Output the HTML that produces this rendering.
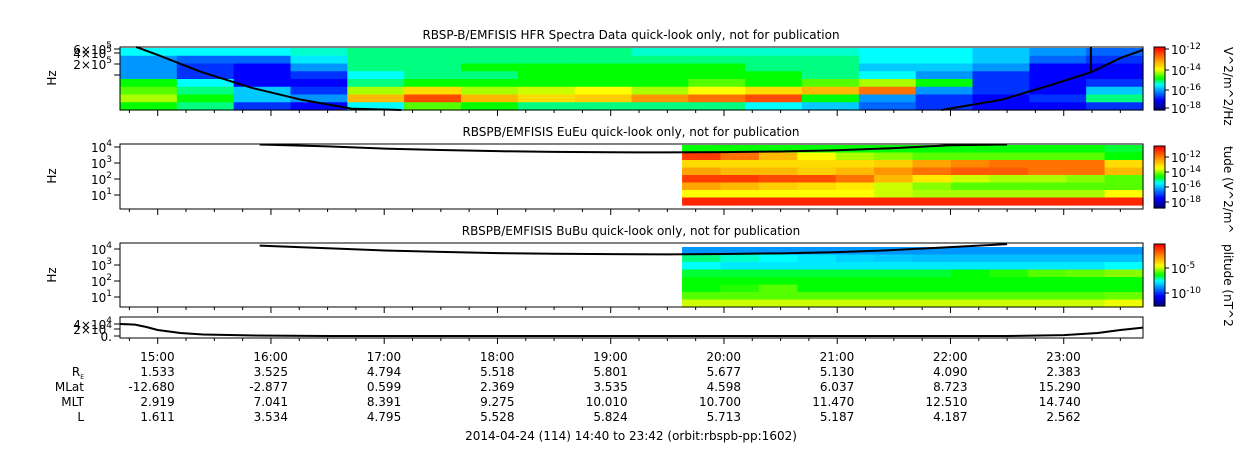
<!DOCTYPE html>
<html><head><meta charset="utf-8"><style>
body{margin:0;background:#fff;font-family:"DejaVu Sans","Liberation Sans",sans-serif;}
svg text{font-family:"DejaVu Sans","Liberation Sans",sans-serif;fill:#000;}
</style></head><body>
<svg id="c" width="1250" height="449" xmlns="http://www.w3.org/2000/svg"></svg>
<script>
// ---- data ----
const hourTicks=[15,16,17,18,19,20,21,22,23];
const hourLabels=["15:00","16:00","17:00","18:00","19:00","20:00","21:00","22:00","23:00"];
const reVals=["1.533","3.525","4.794","5.518","5.801","5.677","5.130","4.090","2.383"];
const mlatVals=["-12.680","-2.877","0.599","2.369","3.535","4.598","6.037","8.723","15.290"];
const mltVals=["2.919","7.041","8.391","9.275","10.010","10.700","11.470","12.510","14.740"];
const lVals=["1.611","3.534","4.795","5.528","5.824","5.713","5.187","4.187","2.562"];
// HFR spectrogram levels (0..1), 18 columns x 8 rows (top to bottom)
const hfrLevels=[
[.4,.3,.3,.3,.5,.55,.6,.5],[.4,.25,.2,.2,.4,.45,.5,.45],[.4,.25,.15,.15,.15,.35,.35,.2],
[.42,.38,.3,.2,.15,.2,.3,.15],[.45,.45,.45,.4,.45,.6,.75,.4],[.45,.45,.45,.45,.5,.7,.9,.55],
[.45,.45,.5,.45,.5,.6,.75,.5],[.45,.45,.5,.5,.5,.62,.7,.45],[.45,.45,.5,.5,.5,.65,.72,.45],
[.42,.45,.5,.5,.5,.6,.8,.45],[.42,.45,.5,.5,.55,.65,.85,.45],[.42,.45,.45,.5,.5,.7,.9,.4],
[.42,.45,.45,.45,.55,.75,.5,.35],[.4,.4,.35,.4,.6,.85,.3,.25],[.4,.4,.35,.3,.5,.3,.2,.2],
[.35,.35,.3,.2,.2,.2,.15,.15],[.3,.25,.15,.15,.15,.15,.2,.15],[.25,.2,.15,.15,.2,.35,.45,.2]];
const euLevels=[
[.5,.92,.7,.78,.92,.78,.65,.95],[.5,.85,.7,.75,.92,.75,.65,.95],[.5,.75,.7,.75,.9,.72,.65,.95],
[.5,.65,.7,.72,.9,.7,.65,.95],[.5,.6,.7,.75,.85,.68,.65,.95],[.5,.58,.72,.8,.75,.62,.62,.95],
[.5,.55,.78,.85,.68,.58,.6,.95],[.5,.55,.82,.88,.62,.55,.6,.95],[.5,.55,.85,.88,.6,.55,.6,.95],
[.5,.55,.85,.85,.6,.55,.6,.95],[.5,.55,.85,.85,.58,.55,.6,.95],[.48,.5,.7,.75,.55,.55,.65,.95]];
const buLevels=[
[.3,.45,.4,.48,.5,.5,.55,.62],[.3,.42,.38,.48,.5,.52,.55,.62],[.3,.4,.38,.48,.5,.55,.55,.62],
[.3,.38,.38,.48,.5,.5,.55,.62],[.3,.36,.38,.48,.5,.5,.55,.62],[.3,.35,.38,.48,.5,.5,.55,.62],
[.3,.34,.38,.48,.5,.5,.55,.62],[.3,.34,.38,.5,.5,.5,.55,.62],[.3,.34,.38,.52,.5,.5,.55,.62],
[.3,.34,.38,.55,.5,.5,.55,.62],[.3,.34,.38,.56,.5,.5,.55,.62],[.3,.34,.4,.58,.5,.5,.56,.64]];
const hfrLineT1=[14.81,15.0,15.39,15.83,16.27,16.71,17.15];
const hfrLineF1=[720000,420000,130000,45000,20000,11000,10000];
const hfrLineT2=[21.92,22.45,22.89,23.24,23.5,23.7];
const hfrLineF2=[10000,20000,55000,130000,340000,590000];
const fceT=[15.9,16.5,17,17.5,18,18.5,19,19.5,20,20.5,21,21.5,22,22.5];
const fceF=[16000,11000,8000,6500,5500,5000,4700,4600,4800,5300,6300,8500,13000,20000];
const altT=[14.67,14.8,14.9,15.0,15.2,15.4,15.8,16.5,20,22.5,23,23.3,23.5,23.7];
const altV=[40000,38000,30000,20000,10000,5000,2000,0,0,0,3000,10000,20000,28000];
// ---- scales ----
const X0=120,X1=1143,T0=14.667,T1=23.7;
const xs=t=>X0+(t-T0)*(X1-X0)/(T1-T0);
const logY=(top,bot,lmax,lmin)=>f=>top+(lmax-Math.log10(f))*(bot-top)/(lmax-lmin);
const y1=logY(47,110,Math.log10(720000),4);
const y2=logY(144,209,4.19,0.12);
const y3=logY(243,307,4.37,0.37);
const y4=v=>336-(v/40000)*12;
const svg=document.getElementById('c');const NS="http://www.w3.org/2000/svg";
function mk(tag,a,p){const e=document.createElementNS(NS,tag);for(const k in a)e.setAttribute(k,a[k]);(p||svg).appendChild(e);return e;}
const CM=[[0,0,0,130],[.15,0,0,255],[.3,0,150,255],[.4,0,255,255],[.5,0,255,0],[.65,255,255,0],[.8,255,150,0],[1,255,0,0]];
function jet(v){v=Math.max(0,Math.min(1,v));for(let i=1;i<CM.length;i++){if(v<=CM[i][0]){const a=CM[i-1],b=CM[i],f=(v-a[0])/(b[0]-a[0]);return `rgb(${Math.round(a[1]+f*(b[1]-a[1]))},${Math.round(a[2]+f*(b[2]-a[2]))},${Math.round(a[3]+f*(b[3]-a[3]))})`;}}return 'rgb(255,0,0)';}
function txt(x,y,s,o){const e=mk('text',Object.assign({x:x,y:y,'font-size':12},o||{}));e.textContent=s;return e;}
function grid(levels,t0,t1,top,bot,name){const g=mk('g',{});
 
 
 const nc=levels.length,nr=levels[0].length,dt=(t1-t0)/nc,h=(bot-top)/nr;
 levels.forEach((col,i)=>col.forEach((v,j)=>{const xa=xs(t0+i*dt),xb=xs(t0+(i+1)*dt);
  mk('rect',{x:xa,y:top+j*h,width:xb-xa+0.6,height:h+0.6,fill:jet(v)},g);}));}
function line(T,F,ys,clipTop,name){const p=mk('polyline',{points:T.map((t,i)=>xs(t)+','+Math.max(clipTop,ys(F[i]))).join(' '),fill:'none',stroke:'#000','stroke-width':2});
 
 }
function frame(top,bot,name){const r=mk('rect',{x:X0,y:top,width:X1-X0,height:bot-top,fill:'none',stroke:'#000','stroke-width':1});
 
 
 for(let t=14.75;t<=T1;t+=0.25){const big=Math.abs(t-Math.round(t))<0.01;mk('line',{x1:xs(t),x2:xs(t),y1:bot,y2:bot+(big?6:3),stroke:'#000'});}}
function cbar(top,bot,ticks,name,label){const g=mk('g',{});
 
 
 const n=40;for(let i=0;i<n;i++)mk('rect',{x:1154,y:top+i*(bot-top)/n,width:11,height:(bot-top)/n+0.6,fill:jet(1-i/(n-1))},g);
 mk('rect',{x:1154,y:top,width:11,height:bot-top,fill:'none',stroke:'#000'},g);
 ticks.forEach(([y,e])=>{mk('line',{x1:1165,x2:1169,y1:y,y2:y,stroke:'#000'},g);const t=txt(1171,y+5,'10',{'font-size':12});const s=mk('tspan',{dy:-5,'font-size':9},t);s.textContent=e;});
 txt(0,0,label,{'font-size':12,transform:`translate(1224,${top}) rotate(90)`});}
// titles
txt(631,39,'RBSP-B/EMFISIS  HFR Spectra Data quick-look only, not for publication',{'text-anchor':'middle'});
txt(631,136,'RBSPB/EMFISIS  EuEu quick-look only, not for publication',{'text-anchor':'middle'});
txt(631,235,'RBSPB/EMFISIS  BuBu quick-look only, not for publication',{'text-anchor':'middle'});
// panels
grid(hfrLevels,T0,T1,48,110,'hfr-spectrogram');
line(hfrLineT1,hfrLineF1,y1,47,'hfr-line-left');line(hfrLineT2,hfrLineF2,y1,47,'hfr-line-right');
mk('line',{x1:xs(23.24),x2:xs(23.24),y1:47,y2:72,stroke:'#000','stroke-width':2});
frame(47,110,'hfr-panel');
grid(euLevels,19.63,T1,145,205,'eueu-spectrogram');line(fceT,fceF,y2,144.5,'eueu-fce-line');frame(144,209,'eueu-panel');
grid(buLevels,19.63,T1,247,307,'bubu-spectrogram');line(fceT,fceF,y3,243.5,'bubu-fce-line');frame(243,307,'bubu-panel');
line(altT,altV,y4,317,'position-line');frame(317,338,'position-panel');
// y labels
function ylab(y,s,e){mk('line',{x1:114,x2:120,y1:y,y2:y,stroke:'#000'});const t=txt(112,y+5,s,{'text-anchor':'end','font-size':12});if(e){const sp=mk('tspan',{dy:-6,'font-size':9},t);sp.textContent=e;}}
[[49,'6×10','5'],[53,'4×10','5'],[64,'2×10','5']].forEach(a=>ylab(...a));mk('line',{x1:114,x2:120,y1:75,y2:75,stroke:'#000'});
[[147,'10','4'],[163,'10','3'],[179,'10','2'],[195,'10','1']].forEach(a=>ylab(...a));
[[249,'10','4'],[265,'10','3'],[281,'10','2'],[297,'10','1']].forEach(a=>ylab(...a));
[[324,'4×10','4'],[329,'2×10','4'],[336,'0.']].forEach(a=>ylab(...a));
[[78],[176],[275]].forEach(([y])=>txt(0,0,'Hz',{'font-size':12,transform:`translate(56,${y}) rotate(-90)`,'text-anchor':'middle'}));
// colorbars
cbar(47,110,[[49,'-12'],[70,'-14'],[90,'-16'],[108,'-18']],'hfr-colorbar','V^2/m^2/Hz');
cbar(146,208,[[157,'-12'],[172,'-14'],[187,'-16'],[202,'-18']],'eueu-colorbar','tude (V^2/m^');
cbar(244,306,[[268,'-5'],[293,'-10']],'bubu-colorbar','plitude (nT^2');
// bottom table
hourTicks.forEach((h,i)=>{const x=xs(h)+17;
 txt(x,361,hourLabels[i],{'text-anchor':'end'});txt(x,376,reVals[i],{'text-anchor':'end'});
 txt(x,391,mlatVals[i],{'text-anchor':'end'});txt(x,406,mltVals[i],{'text-anchor':'end'});txt(x,421,lVals[i],{'text-anchor':'end'});});
const re=txt(84,376,'R',{'text-anchor':'end'});const sb=mk('tspan',{dy:3,'font-size':6},re);sb.textContent='E';
txt(84,391,'MLat',{'text-anchor':'end'});txt(84,406,'MLT',{'text-anchor':'end'});txt(84,421,'L',{'text-anchor':'end'});
txt(631,440,'2014-04-24 (114) 14:40 to 23:42 (orbit:rbspb-pp:1602)',{'text-anchor':'middle'});
</script>
</body></html>
